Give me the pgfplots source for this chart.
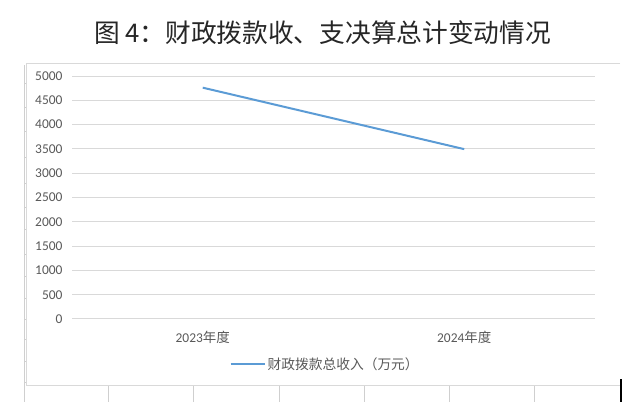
\documentclass[border=0pt]{standalone}
\usepackage{pgfplots}
\pgfplotsset{compat=1.18}
\usepackage{fontspec}
\setmainfont{Carlito}
\newfontfamily\cjk{Noto Sans CJK SC}
\definecolor{lineblue}{HTML}{5B9BD5}
\definecolor{gridgray}{HTML}{D9D9D9}
\definecolor{txtgray}{HTML}{595959}
\definecolor{tblgray}{HTML}{CFCFCF}
\begin{document}
\begin{tikzpicture}[x=1bp,y=1bp]
\path[use as bounding box] (0bp,0bp) rectangle (637bp,402bp);
% title
\node[font=\cjk\fontsize{25.8}{28}\selectfont, anchor=center, text=black!85] at (322.5bp,369bp) {图 4：财政拨款收、支决算总计变动情况};
% surrounding table lines and chart frame
\draw[tblgray, line width=0.8bp] (24bp,0bp) -- (24bp,337bp);
\foreach \yy in {319,295,271,245,219,195,173,148,126,104,83,63,41,20} {\draw[tblgray, line width=0.6bp] (24bp,\yy bp) -- (27bp,\yy bp);}
\foreach \xx in {108,193,279,364,449,534} {\draw[tblgray, line width=0.8bp] (\xx bp,0bp) -- (\xx bp,16bp);}
\draw[gridgray, line width=1bp] (620bp,338bp) -- (26bp,338bp) -- (26bp,16bp) -- (620bp,16bp);
\draw[black, line width=2.4bp] (621bp,0bp) -- (621bp,23bp);
\begin{axis}[
  at={(72bp,83bp)}, anchor=south west,
  scale only axis, width=523bp, height=243bp,
  xmin=-0.5, xmax=1.5, ymin=0, ymax=5000,
  xtick={0,1}, xticklabels={{2023{\cjk 年度}},{2024{\cjk 年度}}},
  ytick={0,500,...,5000},
  axis line style={draw=none},
  major tick length=0pt,
  ymajorgrids, grid style={gridgray, line width=1bp},
  tick label style={font=\fontsize{13.5}{15}\selectfont, text=txtgray},
  /pgf/number format/assume math mode=true,
  /pgf/number format/1000 sep={},
  yticklabel style={anchor=east, xshift=-6bp},
  xticklabel style={anchor=north, yshift=-9bp},
  legend style={at={(0.484,-0.185)}, anchor=center, draw=none, fill=none,
    font=\cjk\fontsize{13.8}{15}\selectfont, text=txtgray, inner sep=0pt},
  legend image code/.code={\draw[#1] (0bp,0bp) -- (34bp,0bp);},
  legend cell align=left,
]
\addplot[lineblue, line width=2bp] coordinates {(0,4760) (1,3495)};
\addlegendentry{财政拨款总收入（万元）}
\end{axis}
\end{tikzpicture}
\end{document}
